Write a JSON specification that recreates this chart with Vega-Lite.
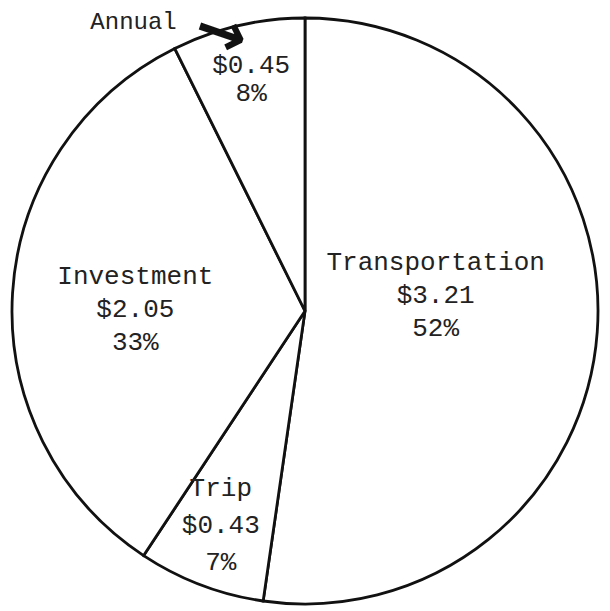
{
  "$schema": "https://vega.github.io/schema/vega-lite/v6.json",
  "autosize": {"type": "none"},
  "width": 610,
  "height": 600,
  "padding": {"top": 11, "left": 0, "right": 0, "bottom": 0},
  "background": "white",
  "config": {"view": {"stroke": null}},
  "data": {"values": [
    {"category": "Transportation", "value": 3.21, "order": 1, "label": "Transportation\n$3.21\n52%"},
    {"category": "Trip", "value": 0.43, "order": 2, "label": "Trip\n$0.43\n7%"},
    {"category": "Investment", "value": 2.05, "order": 3, "label": "Investment\n$2.05\n33%"},
    {"category": "Annual", "value": 0.45, "order": 4, "label": "$0.45\n8%"}
  ]},
  "encoding": {
    "theta": {"field": "value", "type": "quantitative", "stack": true},
    "order": {"field": "order", "type": "quantitative"}
  },
  "layer": [
    {"mark": {"type": "arc", "outerRadius": 293, "fill": "white", "stroke": "#111", "strokeWidth": 2.8}},
    {"mark": {"type": "text", "radius": 131, "dy": -58, "font": "Liberation Mono", "fontSize": 26, "lineBreak": "\n", "lineHeight": 33, "fill": "#222", "baseline": "middle", "align": "center"},
     "encoding": {"text": {"condition": {"test": "datum.category === 'Transportation'", "field": "label"}, "value": ""}}},
    {"mark": {"type": "text", "radius": 237, "dy": -45, "font": "Liberation Mono", "fontSize": 26, "lineBreak": "\n", "lineHeight": 37, "fill": "#222", "baseline": "middle", "align": "center"},
     "encoding": {"text": {"condition": {"test": "datum.category === 'Trip'", "field": "label"}, "value": ""}}},
    {"mark": {"type": "text", "radius": 170, "dy": -25, "font": "Liberation Mono", "fontSize": 26, "lineBreak": "\n", "lineHeight": 33, "fill": "#222", "baseline": "middle", "align": "center"},
     "encoding": {"text": {"condition": {"test": "datum.category === 'Investment'", "field": "label"}, "value": ""}}},
    {"mark": {"type": "text", "radius": 236, "dx": 0, "dy": -16, "font": "Liberation Mono", "fontSize": 26, "lineBreak": "\n", "lineHeight": 28, "fill": "#222", "baseline": "middle", "align": "center"},
     "encoding": {"text": {"condition": {"test": "datum.category === 'Annual'", "field": "label"}, "value": ""}}},
    {"mark": {"type": "text", "radius": 300, "dx": -103, "dy": 3, "font": "Liberation Mono", "fontSize": 24, "fill": "#222", "baseline": "middle", "align": "center"},
     "encoding": {"text": {"condition": {"test": "datum.category === 'Annual'", "value": "Annual"}, "value": ""}}},
    {"mark": {"type": "text", "radius": 300, "dx": -10, "dy": 19, "angle": 19, "font": "DejaVu Sans", "fontSize": 62, "fontWeight": "bold", "fill": "#111", "baseline": "middle", "align": "center"},
     "encoding": {"text": {"condition": {"test": "datum.category === 'Annual'", "value": "→"}, "value": ""}}}
  ]
}
